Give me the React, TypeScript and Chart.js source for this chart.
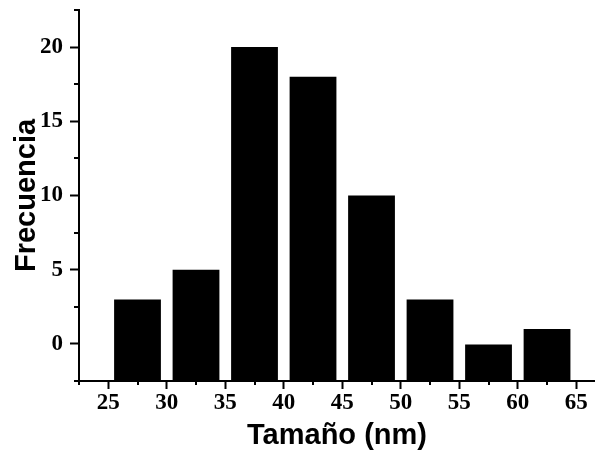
import React, { useEffect, useRef } from "react";
import { Chart, registerables } from "chart.js";

Chart.register(...registerables);

const binStarts = [25, 30, 35, 40, 45, 50, 55, 60];
const binWidth = 5;
const frequencies = [3, 5, 20, 18, 10, 3, 0, 1];
const xMin = 22.5;
const xMax = 66.6;
const yMin = -2.5;
const yMax = 22.5;
const tickStep = 2.5;
const majorStep = 5;
const barFill = 0.8; // fraction of the bin covered by a bar
const xTitle = "Tamaño (nm)";
const yTitle = "Frecuencia";

const isOnStep = (v: number, s: number) => Math.abs(v / s - Math.round(v / s)) < 1e-6;
const isMajor = (v: number) => isOnStep(v, majorStep);

const minorTicks = {
  id: "minorTicks",
  afterDraw(chart: any) {
    const ctx = chart.ctx;
    const xs = chart.scales.x;
    const ys = chart.scales.y;
    const area = chart.chartArea;
    ctx.save();
    ctx.strokeStyle = "#000";
    ctx.lineWidth = 2;
    ctx.beginPath();
    xs.ticks.forEach((t: any) => {
      const v = t.value;
      if (isOnStep(v, tickStep) && !isMajor(v)) {
        const px = Math.round(xs.getPixelForValue(v));
        ctx.moveTo(px, area.bottom);
        ctx.lineTo(px, area.bottom + 4);
      }
    });
    ys.ticks.forEach((t: any) => {
      const v = t.value;
      if (isOnStep(v, tickStep) && !isMajor(v)) {
        const py = Math.round(ys.getPixelForValue(v));
        ctx.moveTo(area.left, py);
        ctx.lineTo(area.left - 5, py);
      }
    });
    ctx.stroke();
    ctx.restore();
  },
};

export default function App() {
  const ref = useRef<HTMLCanvasElement>(null);
  useEffect(() => {
    document.body.style.margin = "0";
    const data = binStarts.map((s, i) => ({ x: s + binWidth / 2, y: [yMin, frequencies[i]] }));
    const chart = new Chart(ref.current as HTMLCanvasElement, {
      type: "bar",
      data: {
        datasets: [
          {
            data: data as any,
            backgroundColor: "#000",
            borderWidth: 0,
            categoryPercentage: 1,
            // minimum sample spacing is the tick step (2.5), so scale to cover barFill of a 5-wide bin
            barPercentage: (barFill * binWidth) / tickStep,
          },
        ],
      },
      options: {
        animation: false,
        responsive: false,
        layout: { padding: { top: 10, right: 0, left: 0, bottom: 0 } },
        plugins: { legend: { display: false }, tooltip: { enabled: false } },
        scales: {
          x: {
            type: "linear",
            min: xMin,
            max: xMax,
            offset: false,
            afterFit: (s: any) => {
              s.height = 69;
              s.paddingLeft = 0;
              s.paddingRight = 0;
            },
            border: { display: true, color: "#000", width: 2 },
            grid: {
              offset: false,
              drawOnChartArea: false,
              drawTicks: true,
              tickLength: 8,
              tickWidth: 2,
              tickColor: (c: any) => (c.tick && isMajor(c.tick.value) ? "#000" : "rgba(0,0,0,0)"),
            },
            ticks: {
              stepSize: tickStep,
              includeBounds: false,
              autoSkip: false,
              maxRotation: 0,
              padding: 3,
              color: "#000",
              font: { family: "Liberation Serif", weight: "bold", size: 23, lineHeight: 1 },
              callback: (v: any) => (isMajor(Number(v)) ? String(v) : ""),
            },
            title: {
              display: true,
              text: xTitle,
              color: "#000",
              font: { family: "Liberation Sans", weight: "bold", size: 29, lineHeight: 1 },
              padding: { top: 0, bottom: 0 },
            },
          },
          y: {
            type: "linear",
            min: yMin,
            max: yMax,
            afterFit: (s: any) => {
              s.width = 79;
              s.paddingTop = 0;
              s.paddingBottom = 0;
            },
            border: { display: true, color: "#000", width: 2 },
            grid: {
              drawOnChartArea: false,
              drawTicks: true,
              tickLength: 9,
              tickWidth: 2,
              tickColor: (c: any) => (c.tick && isMajor(c.tick.value) ? "#000" : "rgba(0,0,0,0)"),
            },
            ticks: {
              stepSize: tickStep,
              autoSkip: false,
              padding: 7,
              color: "#000",
              font: { family: "Liberation Serif", weight: "bold", size: 23, lineHeight: 1 },
              callback: (v: any) => (isMajor(Number(v)) ? String(v) : ""),
            },
            title: {
              display: true,
              text: yTitle,
              color: "#000",
              font: { family: "Liberation Sans", weight: "bold", size: 29, lineHeight: 1 },
              padding: { top: 12, bottom: 0 },
            },
          },
        },
      },
      plugins: [minorTicks],
    });
    return () => chart.destroy();
  }, []);
  return (
    <div style={{ width: 595, height: 450, background: "#fff" }}>
      <canvas ref={ref} width={595} height={450} style={{ display: "block" }} />
    </div>
  );
}
